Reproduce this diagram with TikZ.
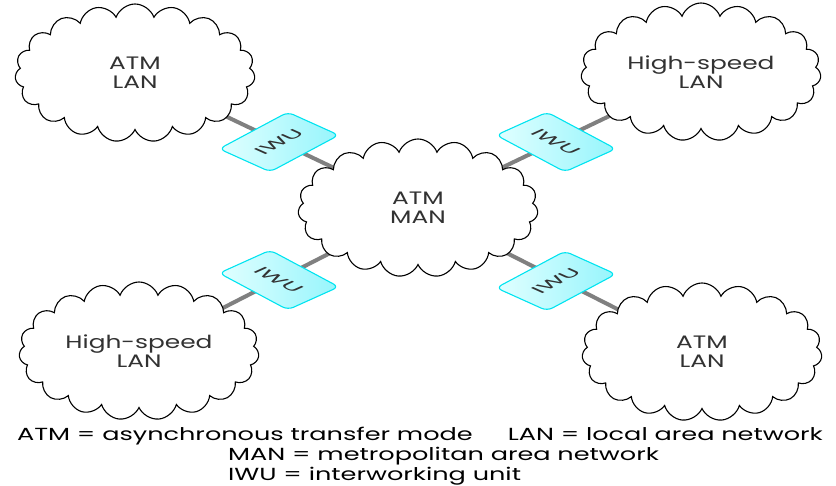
\documentclass[tikz,border=0pt]{standalone}
\usepackage{fontspec}
\setmainfont{Poppins}[FakeStretch=1.38]
\newfontfamily\legendfont{Poppins}[FakeStretch=1.46]
\usetikzlibrary{shapes.symbols}
\definecolor{iwuedge}{RGB}{0,228,240}
\definecolor{iwulight}{RGB}{225,255,255}
\definecolor{iwudark}{RGB}{150,245,252}
\definecolor{linkgray}{RGB}{128,128,128}
\definecolor{ink}{RGB}{50,50,50}
\begin{document}
\begin{tikzpicture}[x=1pt,y=-1pt,
  net/.style={cloud, cloud puffs=19, cloud puff arc=140, cloud ignores aspect,
    draw=black, line width=1.1pt, fill=white,
    minimum width=240pt, minimum height=138pt, inner sep=0pt,
    align=center, text=ink, font=\fontsize{18}{19}\selectfont},
  iwu/.style={draw=iwuedge, line width=1.1pt, rounded corners=6pt,
    left color=iwulight, right color=iwudark,
    minimum width=78pt, minimum height=56pt, inner sep=0pt,
    text=ink, font=\fontsize{18}{19}\selectfont},
  rise/.style={cm={0.88,0.47,-0.91,0.41,(0,0)}},
  fall/.style={cm={0.88,-0.47,0.91,0.41,(0,0)}},
  link/.style={line width=4pt, draw=linkgray},
  legend/.style={inner sep=0pt, text=black, font=\legendfont\fontsize{17.5}{20}\selectfont}]
\useasboundingbox (0,0) rectangle (836,486);

% gray links from each LAN to the MAN (drawn first, under the clouds)
\coordinate (ctl) at (135,73);
\coordinate (ctr) at (701,72);
\coordinate (cbl) at (139,351);
\coordinate (cbr) at (702,352);
\coordinate (cmid) at (418,208);
\draw[link] (ctl) -- (cmid);
\draw[link] (ctr) -- (cmid);
\draw[link] (cbl) -- (cmid);
\draw[link] (cbr) -- (cmid);

% networks
\node[net] (man) at (cmid) {ATM\\MAN};
\node[net] (lantl) at (ctl) {ATM\\LAN};
\node[net] (lantr) at (ctr) {High-speed\\LAN};
\node[net] (lanbl) at (cbl) {High-speed\\LAN};
\node[net] (lanbr) at (cbr) {ATM\\LAN};

% interworking units sitting on the links
\begin{scope}[shift={(279,142)}]
  \node[iwu, rise] (iwutl) at (0,0) {IWU};
\end{scope}
\begin{scope}[shift={(556,142)}]
  \node[iwu, fall] (iwutr) at (0,0) {IWU};
\end{scope}
\begin{scope}[shift={(279,280)}]
  \node[iwu, fall] (iwubl) at (0,0) {IWU};
\end{scope}
\begin{scope}[shift={(556,281)}]
  \node[iwu, rise] (iwubr) at (0,0) {IWU};
\end{scope}

% legend
\node[legend] (leg1) at (420,436) {ATM = asynchronous transfer mode\hspace{2em}LAN = local area network};
\node[legend, anchor=west] (leg2) at (228,456) {MAN = metropolitan area network};
\node[legend, anchor=west] (leg3) at (228,476) {IWU = interworking unit};
\end{tikzpicture}
\end{document}
